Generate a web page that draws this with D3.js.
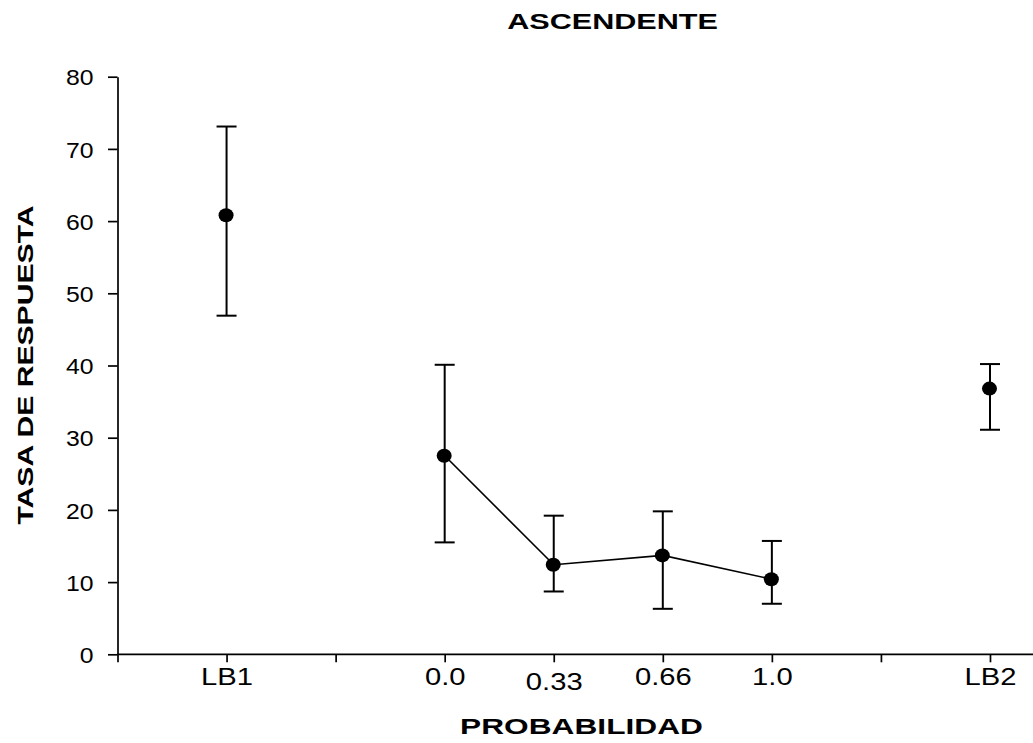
<!DOCTYPE html>
<html>
<head>
<meta charset="utf-8">
<script src="https://cdn.jsdelivr.net/npm/d3@7"></script>
<style>
    body { margin: 0; background: #fff; }
    svg { display: block; font-family: "Liberation Sans", Arial, sans-serif; }
</style>
</head>
<body>
<div id="chart"></div>
<script>
// data
var tickPositions = [0, 1, 2, 3, 4, 5, 6, 7, 8]
var tickLabels = ["", "LB1", "", "0.0", "0.33", "0.66", "1.0", "", "LB2"]
var categories = ["LB1", "0.0", "0.33", "0.66", "1.0", "LB2"]
var positions = [1, 3, 4, 5, 6, 8]
var means = [60.8, 27.5, 12.4, 13.7, 10.4, 36.8]
var upper = [73.1, 40.1, 19.2, 19.8, 15.7, 40.2]
var lower = [46.9, 15.5, 8.7, 6.3, 7.0, 31.1]
var connected = ["0.0", "0.33", "0.66", "1.0"]
var yTicks = [0, 10, 20, 30, 40, 50, 60, 70, 80]

var width = 1033,
    height = 743

var svg = d3.select("#chart")
    .append("svg")
    .attr("width", width)
    .attr("height", height)

var data = categories.map(function(c, i) {
    return { cat: c, pos: positions[i], mean: means[i], hi: upper[i], lo: lower[i] }
})

var x = d3.scaleLinear()
    .domain([0, 9])
    .range([117.5, 117.5 + 9 * 109.06])

var y = d3.scaleLinear()
    .domain([0, 80])
    .range([654.3, 76.7])

// y axis
var yAxis = svg.append("g")
    .attr("transform", "translate(" + x(0) + ",0)")
    .call(d3.axisLeft(y).tickValues(yTicks).tickSize(9.5).tickSizeOuter(0))
yAxis.select(".domain").attr("stroke-width", 1.7)
yAxis.selectAll(".tick line").attr("stroke-width", 1.7)
yAxis.selectAll(".tick text")
    .attr("x", -24 / 1.1)
    .attr("dy", "0.36em")
    .attr("transform", "scale(1.1,1)")
    .style("font-size", "22.5px")
    .attr("fill", "#000")

// x axis
var xAxis = svg.append("g")
    .attr("transform", "translate(0," + y(0) + ")")
    .call(d3.axisBottom(x).tickValues(tickPositions).tickSize(8).tickSizeOuter(0)
        .tickFormat(function(d) { return tickLabels[d] }))
xAxis.select(".domain").attr("d", "M" + x(0) + ",0H" + (width + 10)).attr("stroke-width", 1.7)
xAxis.selectAll(".tick line").attr("stroke-width", 1.7)
xAxis.selectAll(".tick text")
    .attr("dy", 0)
    .attr("y", function(d) { return tickLabels[d] == "0.33" ? 35.5 : 30.5 })
    .attr("transform", "scale(1.27,1)")
    .style("font-size", "23px")
    .attr("fill", "#000")

// connecting line
var line = d3.line()
    .x(function(d) { return x(d.pos) })
    .y(function(d) { return y(d.mean) })

svg.append("path")
    .datum(data.filter(function(d) { return connected.indexOf(d.cat) >= 0 }))
    .attr("d", line)
    .attr("fill", "none")
    .attr("stroke", "#000")
    .attr("stroke-width", 1.6)

// error bars
var bars = svg.selectAll(".err")
    .data(data)
    .enter()
    .append("g")
    .attr("class", "err")
    .attr("stroke", "#000")
    .attr("stroke-width", 2)

bars.append("line")
    .attr("x1", function(d) { return x(d.pos) })
    .attr("x2", function(d) { return x(d.pos) })
    .attr("y1", function(d) { return y(d.hi) })
    .attr("y2", function(d) { return y(d.lo) })
bars.append("line")
    .attr("x1", function(d) { return x(d.pos) - 10 })
    .attr("x2", function(d) { return x(d.pos) + 10 })
    .attr("y1", function(d) { return y(d.hi) })
    .attr("y2", function(d) { return y(d.hi) })
bars.append("line")
    .attr("x1", function(d) { return x(d.pos) - 10 })
    .attr("x2", function(d) { return x(d.pos) + 10 })
    .attr("y1", function(d) { return y(d.lo) })
    .attr("y2", function(d) { return y(d.lo) })

// points
svg.selectAll(".dot")
    .data(data)
    .enter()
    .append("ellipse")
    .attr("class", "dot")
    .attr("cx", function(d) { return x(d.pos) - 0.5 })
    .attr("cy", function(d) { return y(d.mean) })
    .attr("rx", 7.5)
    .attr("ry", 7)
    .attr("fill", "#000")

// titles
svg.append("text")
    .attr("transform", "translate(612.5,28.5) scale(1.39,1)")
    .attr("text-anchor", "middle")
    .style("font-size", "22px")
    .style("font-weight", "bold")
    .text("ASCENDENTE")

svg.append("text")
    .attr("transform", "translate(581.5,734) scale(1.44,1)")
    .attr("text-anchor", "middle")
    .style("font-size", "22px")
    .style("font-weight", "bold")
    .text("PROBABILIDAD")

svg.append("text")
    .attr("transform", "translate(33,365) rotate(-90) scale(1.37,1)")
    .attr("text-anchor", "middle")
    .style("font-size", "22px")
    .style("font-weight", "bold")
    .text("TASA DE RESPUESTA")
</script>
</body>
</html>
